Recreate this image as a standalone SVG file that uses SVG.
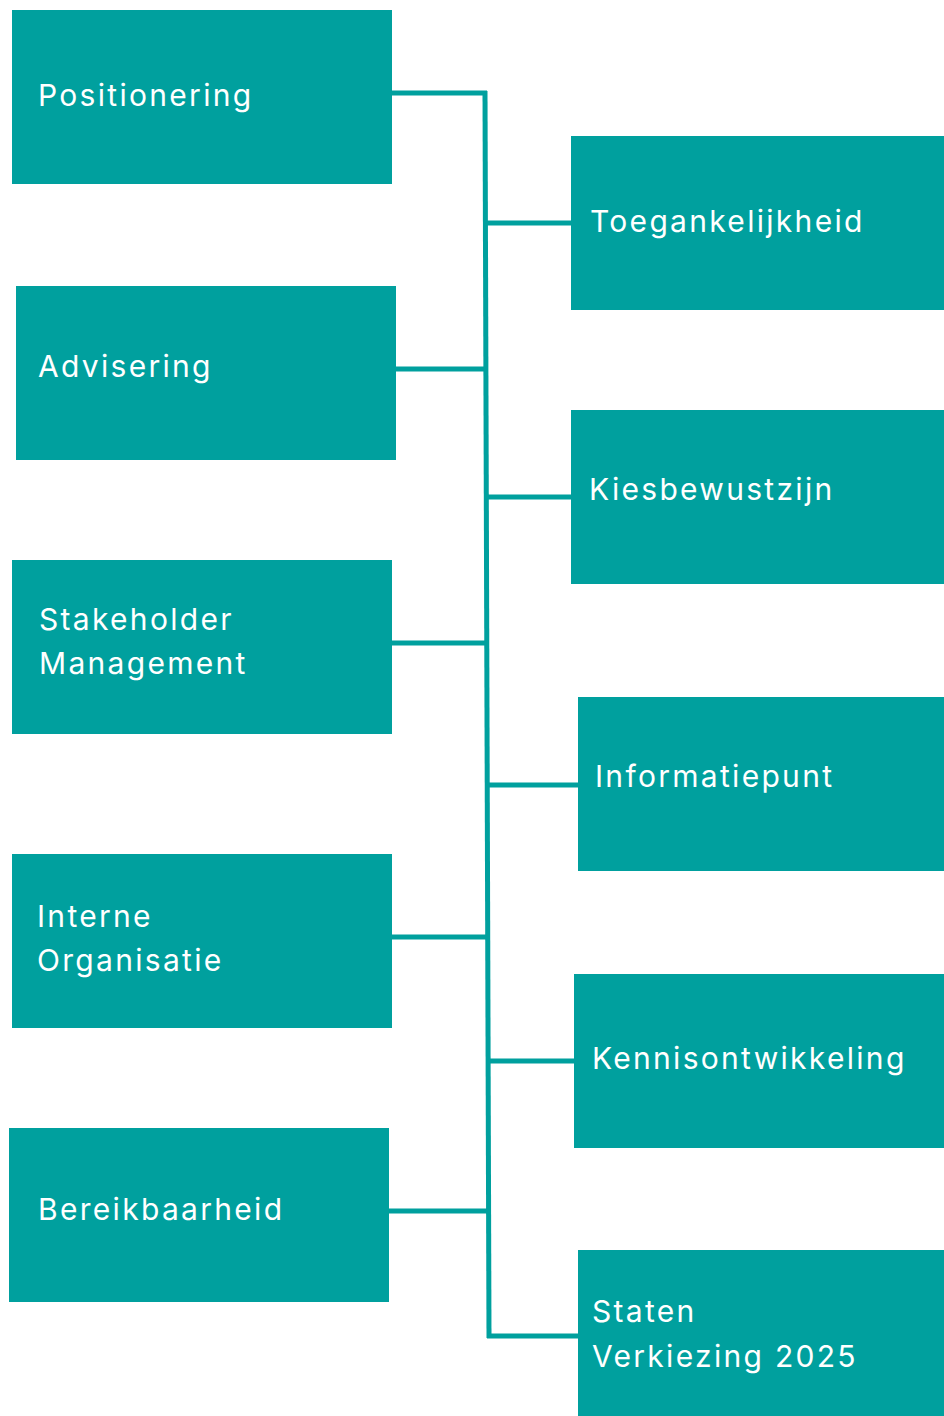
<svg xmlns="http://www.w3.org/2000/svg" width="944" height="1416" viewBox="0 0 944 1416">
<style>
.box{fill:#00A09E}
.lbl{fill:#ffffff;font-family:Inter,"Open Sans","Liberation Sans",sans-serif;font-size:30px;letter-spacing:2.3px}
.con{stroke:#00A09E;stroke-width:5;fill:none;stroke-linecap:butt}
</style>
<rect width="944" height="1416" fill="#ffffff"/>
<g id="connectors">
<line class="con" x1="485" y1="91" x2="489" y2="1338"/>
<line class="con" x1="392" y1="93" x2="487" y2="93"/>
<line class="con" x1="485" y1="223" x2="571" y2="223"/>
<line class="con" x1="396" y1="369" x2="486" y2="369"/>
<line class="con" x1="486" y1="497" x2="571" y2="497"/>
<line class="con" x1="392" y1="643" x2="487" y2="643"/>
<line class="con" x1="487" y1="785" x2="578" y2="785"/>
<line class="con" x1="392" y1="937" x2="488" y2="937"/>
<line class="con" x1="488" y1="1061" x2="574" y2="1061"/>
<line class="con" x1="389" y1="1211" x2="489" y2="1211"/>
<line class="con" x1="487" y1="1336" x2="578" y2="1336"/>
</g>
<g id="positionering"><rect class="box" x="12" y="10" width="380" height="174"/><text class="lbl" x="38" y="106">Positionering</text></g>
<g id="advisering"><rect class="box" x="16" y="286" width="380" height="174"/><text class="lbl" x="38" y="377">Advisering</text></g>
<g id="stakeholder"><rect class="box" x="12" y="560" width="380" height="174"/><text class="lbl" x="39" y="630">Stakeholder</text><text class="lbl" x="39" y="674">Management</text></g>
<g id="interne"><rect class="box" x="12" y="854" width="380" height="174"/><text class="lbl" x="37" y="927">Interne</text><text class="lbl" x="37" y="971">Organisatie</text></g>
<g id="bereikbaarheid"><rect class="box" x="9" y="1128" width="380" height="174"/><text class="lbl" x="38" y="1220">Bereikbaarheid</text></g>
<g id="toegankelijkheid"><rect class="box" x="571" y="136" width="373" height="174"/><text class="lbl" x="590" y="232">Toegankelijkheid</text></g>
<g id="kiesbewustzijn"><rect class="box" x="571" y="410" width="373" height="174"/><text class="lbl" x="589" y="500">Kiesbewustzijn</text></g>
<g id="informatiepunt"><rect class="box" x="578" y="697" width="366" height="174"/><text class="lbl" x="595" y="787">Informatiepunt</text></g>
<g id="kennisontwikkeling"><rect class="box" x="574" y="974" width="370" height="174"/><text class="lbl" x="592" y="1069">Kennisontwikkeling</text></g>
<g id="staten"><rect class="box" x="578" y="1250" width="366" height="166"/><text class="lbl" x="592" y="1322">Staten</text><text class="lbl" x="592" y="1367">Verkiezing 2025</text></g>
</svg>
